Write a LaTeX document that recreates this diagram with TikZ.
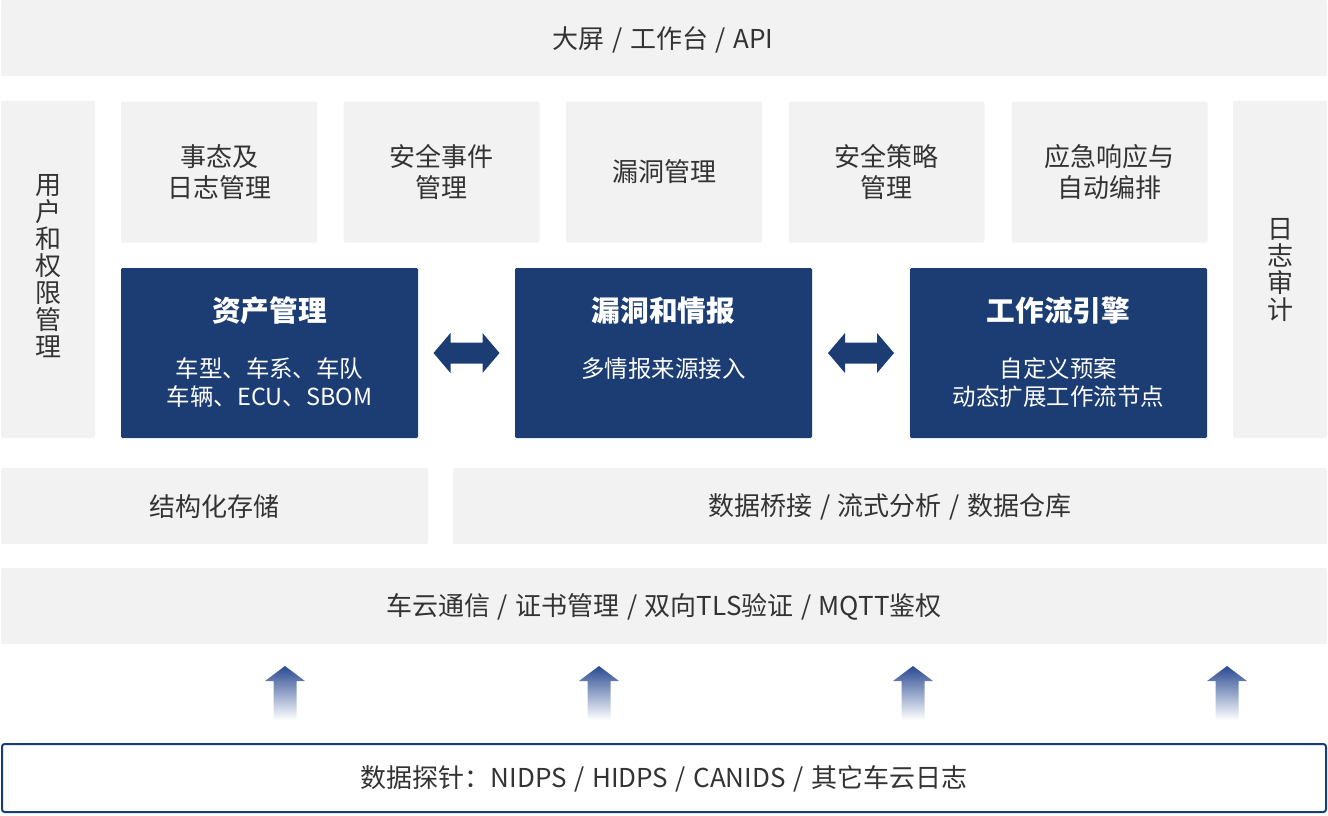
\documentclass[tikz,border=0pt]{standalone}
\usepackage{fontspec}
\setmainfont{Noto Sans CJK SC}[WordSpace=1.3]
\usetikzlibrary{calc}
\definecolor{gbox}{HTML}{F2F2F2}
\definecolor{navy}{HTML}{1B3D73}
\definecolor{txt}{HTML}{333333}
\definecolor{arrowblue}{HTML}{2A4A92}
\begin{document}
\begin{tikzpicture}[x=0.75pt,y=-0.75pt,
  graybox/.style={fill=gbox, draw=none, rounded corners=1.5pt, inner sep=0pt, text=txt,
    font=\fontsize{19.5}{23.25}\selectfont, align=center},
  graytext/.style={text=txt, inner sep=0pt, font=\fontsize{19.5}{22}\selectfont},
  vtext/.style={text=txt, inner sep=0pt, align=center, font=\fontsize{19.5}{20.25}\selectfont},
  navybox/.style={fill=navy, draw=none, rounded corners=1pt, inner sep=0pt,
    minimum width=222.75pt, minimum height=127.5pt},
  navytitle/.style={text=white, inner sep=0pt, font=\fontsize{21.5}{24}\selectfont\bfseries},
  navysub/.style={text=white, inner sep=0pt, align=center, font=\fontsize{17.6}{21}\selectfont},
  midbox/.style={graybox, minimum width=147pt, minimum height=105.75pt},
  sidebox/.style={graybox, minimum width=70.5pt, minimum height=252.75pt},
  dblarrow/.style={fill=navy, draw=none},
  uparrow/.style={top color=arrowblue, bottom color=white, draw=none}
]
\useasboundingbox (0,0) rectangle (1328,815);

% top bar
\node[graybox, minimum width=994.5pt, minimum height=57pt] (top) at (664,38) {};
\node[graytext] (toptext) at (663,40) {大屏 / 工作台 / API};

% side columns
\node[sidebox] (user) at (48,269.5) {};
\node[vtext] (user-t) at (48,266) {用\\户\\和\\权\\限\\管\\理};
\node[sidebox] (audit) at (1280,269.5) {};
\node[vtext] (audit-t) at (1280,269.5) {日\\志\\审\\计};

% five function boxes
\node[midbox] (m1) at (219,172) {事态及\\日志管理};
\node[midbox] (m2) at (441.5,172) {安全事件\\管理};
\node[midbox] (m3) at (664,172) {漏洞管理};
\node[midbox] (m4) at (886.5,172) {安全策略\\管理};
\node[midbox] (m5) at (1109.5,172) {应急响应与\\自动编排};

% navy boxes
\node[navybox] (asset) at (269.5,353) {};
\node[navybox] (vuln) at (663.5,353) {};
\node[navybox] (flow) at (1058.5,353) {};
\node[navytitle] (asset-t) at (269.5,311) {资产管理};
\node[navytitle] (vuln-t) at (663.5,311) {漏洞和情报};
\node[navytitle] (flow-t) at (1058.5,311) {工作流引擎};
\node[navysub] (asset-s) at (269.5,383) {车型、车系、车队\\车辆、ECU、SBOM};
\node[navysub] (vuln-s) at (663.5,369) {多情报来源接入};
\node[navysub] (flow-s) at (1058.5,383) {自定义预案\\动态扩展工作流节点};

% double arrows between navy boxes
\foreach \a/\b in {asset/vuln, vuln/flow}{
  \coordinate (mid-\a) at ($(\a.east)!0.5!(\b.west)$);
  \fill[dblarrow, shift={(mid-\a)}] (-33,0) -- (-16,-20) -- (-16,-10.5) -- (16,-10.5) -- (16,-20)
     -- (33,0) -- (16,20) -- (16,10.5) -- (-16,10.5) -- (-16,20) -- cycle;
}

% storage row
\node[graybox, minimum width=320.25pt, minimum height=57pt] (store) at (214.5,506) {};
\node[graytext] (store-t) at (214.5,507) {结构化存储};
\node[graybox, minimum width=655.5pt, minimum height=57pt] (bridge) at (890,506) {};
\node[graytext] (bridge-t) at (890,507) {数据桥接 / 流式分析 / 数据仓库};

% communication bar
\node[graybox, minimum width=994.5pt, minimum height=57pt] (comm) at (664,606) {};
\node[graytext] (comm-t) at (664,607) {车云通信 / 证书管理 / 双向TLS验证 / MQTT鉴权};

% bottom probe box
\node[draw=navy, line width=1.5pt, fill=white, rounded corners=2pt, minimum width=993pt, minimum height=51pt, inner sep=0pt] (probe) at (664,778) {};
\node[graytext] (probe-t) at (664,779) {数据探针：NIDPS / HIDPS / CANIDS / 其它车云日志};

% up arrows
\foreach \x in {285,599,913,1227}{
  \shade[uparrow] (\x,666) -- (\x+20,681) -- (\x+11.5,681) -- (\x+11.5,720) -- (\x-11.5,720)
     -- (\x-11.5,681) -- (\x-20,681) -- cycle;
}
\end{tikzpicture}
\end{document}
